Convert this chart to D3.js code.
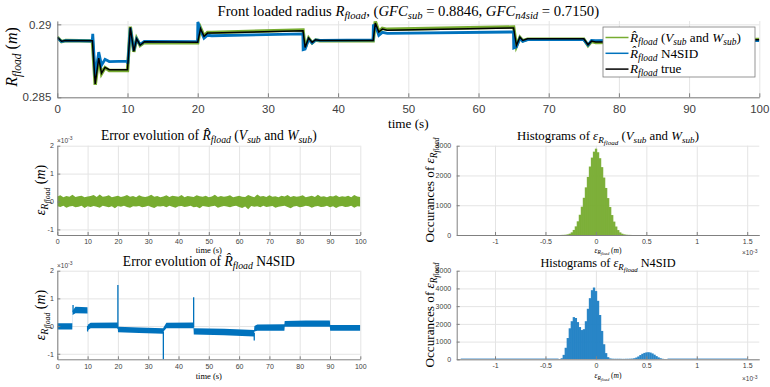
<!DOCTYPE html>
<html><head><meta charset="utf-8">
<script src="https://cdn.jsdelivr.net/npm/d3@7"></script>
<style>body{margin:0;background:#fff} svg{display:block} text{white-space:pre}</style>
</head><body>
<svg id="c" width="770" height="387"></svg>
<script>
// ---------------- DATA ----------------
// Top chart: time keypoints (s) and radius values (m)
const tTrue = [0, 0.6, 1.2, 5.0, 5.4, 5.9, 6.3, 6.8, 7.4, 10.0, 10.4, 10.9, 11.3, 11.8, 12.4, 20.0, 20.4, 20.9, 21.4, 22.0, 35.0, 35.3, 35.8, 36.3, 36.8, 37.4, 45.0, 45.3, 45.8, 46.3, 47.0, 65.0, 65.4, 65.9, 66.3, 67.0, 75.0, 75.6, 76.1, 76.7, 90.0, 90.5, 91.2, 100];
const rTrue = [0.28911, 0.28884, 0.28890, 0.28888, 0.28591, 0.28769, 0.28666, 0.28705, 0.28689, 0.28689, 0.28979, 0.28815, 0.28901, 0.28857, 0.28880, 0.28877, 0.28970, 0.28918, 0.28940, 0.28940, 0.28956, 0.28842, 0.28906, 0.28876, 0.28895, 0.28890, 0.28890, 0.29009, 0.28947, 0.28968, 0.28960, 0.28975, 0.28856, 0.28912, 0.28890, 0.28901, 0.28901, 0.28860, 0.28885, 0.28879, 0.28885, 0.28900, 0.28893, 0.28895];
const rSub  = [0.28913, 0.28882, 0.28889, 0.28886, 0.28585, 0.28772, 0.28662, 0.28703, 0.28684, 0.28684, 0.28984, 0.28812, 0.28903, 0.28855, 0.28876, 0.28874, 0.28975, 0.28921, 0.28944, 0.28945, 0.28962, 0.28838, 0.28905, 0.28873, 0.28893, 0.28888, 0.28888, 0.29020, 0.28950, 0.28972, 0.28966, 0.28982, 0.28851, 0.28910, 0.28888, 0.28899, 0.28899, 0.28855, 0.28883, 0.28876, 0.28884, 0.28902, 0.28892, 0.28896];
const tN4 = [0, 0.6, 1.2, 4.98, 5.05, 5.4, 5.9, 6.3, 6.8, 7.4, 9.98, 10.05, 10.4, 10.9, 11.3, 11.8, 12.4, 19.98, 20.02, 20.4, 20.9, 21.4, 22.0, 34.98, 35.02, 35.3, 35.8, 36.3, 36.8, 37.4, 44.98, 45.02, 45.3, 45.8, 46.3, 47.0, 64.98, 65.02, 65.4, 65.9, 66.3, 67.0, 74.98, 75.6, 76.1, 76.7, 89.98, 90.5, 91.2, 100];
const rN4 = [0.28908, 0.28882, 0.28888, 0.28886, 0.28935, 0.28640, 0.28810, 0.28720, 0.28760, 0.28745, 0.28748, 0.28730, 0.28975, 0.28820, 0.28900, 0.28862, 0.28884, 0.28882, 0.29016, 0.28960, 0.28905, 0.28925, 0.28922, 0.28935, 0.28826, 0.28830, 0.28898, 0.28872, 0.28893, 0.28890, 0.28893, 0.28992, 0.28995, 0.28925, 0.28945, 0.28938, 0.28948, 0.28838, 0.28845, 0.28905, 0.28884, 0.28895, 0.28895, 0.28858, 0.28890, 0.28889, 0.28895, 0.28890, 0.28888, 0.28889];
const topXTicks = [0, 10, 20, 30, 40, 50, 60, 70, 80, 90, 100];
const topYTicks = [0.285, 0.29];

// Error of sub estimate (x1e-3 m): envelope of the noise, one value per second
const errSubT = d3.range(0, 101, 1);
const errSubHi = [0.18,0.22,0.15,0.20,0.17,0.24,0.16,0.19,0.21,0.15,
  0.18,0.20,0.23,0.16,0.25,0.17,0.19,0.22,0.15,0.18,
  0.21,0.16,0.19,0.23,0.17,0.20,0.15,0.22,0.18,0.16,
  0.19,0.24,0.17,0.20,0.15,0.18,0.22,0.16,0.21,0.19,
  0.17,0.23,0.15,0.20,0.18,0.16,0.22,0.19,0.17,0.21,
  0.15,0.18,0.24,0.16,0.20,0.17,0.19,0.22,0.15,0.18,
  0.21,0.17,0.16,0.23,0.19,0.15,0.25,0.18,0.20,0.16,
  0.22,0.17,0.19,0.15,0.21,0.18,0.23,0.16,0.20,0.17,
  0.19,0.22,0.15,0.18,0.21,0.16,0.24,0.17,0.19,0.15,
  0.20,0.18,0.22,0.16,0.19,0.17,0.21,0.15,0.23,0.18,0.16];
const errSubLo = [-0.17,-0.20,-0.15,-0.22,-0.18,-0.16,-0.21,-0.19,-0.15,-0.23,
  -0.17,-0.20,-0.16,-0.19,-0.22,-0.15,-0.18,-0.21,-0.17,-0.24,
  -0.16,-0.19,-0.15,-0.20,-0.22,-0.17,-0.18,-0.16,-0.21,-0.19,
  -0.15,-0.20,-0.23,-0.17,-0.18,-0.16,-0.21,-0.15,-0.19,-0.22,
  -0.17,-0.16,-0.20,-0.18,-0.15,-0.21,-0.19,-0.24,-0.16,-0.18,
  -0.20,-0.17,-0.15,-0.22,-0.19,-0.16,-0.18,-0.21,-0.17,-0.15,
  -0.20,-0.23,-0.18,-0.28,-0.16,-0.19,-0.17,-0.21,-0.15,-0.20,
  -0.18,-0.16,-0.22,-0.19,-0.17,-0.15,-0.20,-0.24,-0.18,-0.16,
  -0.21,-0.19,-0.15,-0.17,-0.22,-0.18,-0.16,-0.20,-0.19,-0.15,
  -0.21,-0.17,-0.23,-0.18,-0.16,-0.20,-0.19,-0.15,-0.22,-0.17,-0.18];

// Error of N4SID estimate (x1e-3 m): band keypoints + spikes
const errN4T  = [0, 4.95, 5.05, 6, 9.95, 10.05, 11, 19.95, 20.05, 27, 34.95, 35.05, 36, 44.95, 45.05, 55, 64.95, 65.05, 66, 74.95, 75.05, 82, 89.95, 90.05, 100];
const errN4Hi = [0.10, 0.10, 0.55, 0.70, 0.68, 0.05, 0.12, 0.13, -0.02, -0.05, -0.08, -0.05, 0.12, 0.13, -0.08, -0.10, -0.14, 0.00, 0.06, 0.07, 0.18, 0.20, 0.20, 0.04, 0.04];
const errN4Lo = [-0.12, -0.12, 0.40, 0.46, 0.45, -0.15, -0.08, -0.08, -0.22, -0.25, -0.28, -0.20, -0.08, -0.08, -0.30, -0.33, -0.38, -0.20, -0.17, -0.17, -0.02, -0.02, -0.02, -0.17, -0.17];
const spikeT    = [5.2, 10.0, 20.0, 35.0, 45.0, 65.0];
const spikeBase = [0.50, 0.0, -0.10, -0.20, -0.05, -0.25];
const spikeV    = [0.76, -0.20, 1.48, -1.30, 1.04, -0.52];
const errXTicks = [0, 10, 20, 30, 40, 50, 60, 70, 80, 90, 100];
const errYTicks = [-1, 0, 1, 2];

// Histograms (bin centres x1e-3 m, bin width 0.02e-3)
const histSubX = [-0.34,-0.32,-0.30,-0.28,-0.26,-0.24,-0.22,-0.20,-0.18,-0.16,-0.14,-0.12,-0.10,-0.08,-0.06,-0.04,-0.02,0,0.02,0.04,0.06,0.08,0.10,0.12,0.14,0.16,0.18,0.20,0.22,0.24,0.26,0.28,0.30,0.32,0.34];
const histSubN = [3,5,10,22,45,90,170,290,460,680,950,1250,1600,1950,2300,2600,2800,2900,2780,2580,2280,1930,1580,1240,940,670,450,285,165,88,44,21,10,5,3];
const histN4X = [-0.36,-0.34,-0.32,-0.30,-0.28,-0.26,-0.24,-0.22,-0.20,-0.18,-0.16,-0.14,-0.12,-0.10,-0.08,-0.06,-0.04,-0.02,0,0.02,0.04,0.06,0.08,0.10,0.12,0.14,0.16,0.18,0.20,0.22,0.24,0.26,0.28,0.30,0.32,0.34,0.36,0.38,0.40,0.42,0.44,0.46,0.48,0.50,0.52,0.54,0.56,0.58,0.60,0.62,0.64,0.66,0.68,0.70];
const histN4N = [10,60,250,650,1200,1750,2150,2380,2330,2100,1820,1650,1700,2150,2850,3450,3900,4050,3850,3300,2500,1600,850,350,120,50,35,30,30,30,30,25,25,30,30,35,40,60,100,160,240,310,360,390,400,380,330,260,180,110,60,30,15,5];
const histN4TailFrom = [-1.34, 0.71];
const histN4TailTo   = [-0.37, 1.50];
const histN4TailN    = [6, 6];
const histXTicks = [-1, -0.5, 0, 0.5, 1, 1.5];
const histSubYTicks = [0, 1000, 2000, 3000];
const histN4YTicks = [0, 1000, 2000, 3000, 4000, 5000];

// ---------------- DRAWING ----------------
const svg = d3.select('#c');
const SERIF = "'Liberation Serif','DejaVu Serif',serif";
const SANS = "'Liberation Sans',Arial,sans-serif";
const GRID = '#e4e4e4', AXIS = '#808080', TXT = '#404040';
const GREEN = '#77AC30', BLUE = '#0072BD';

function math(x, y, segs, size, opts = {}) {
  const t = svg.append('text').attr('x', x).attr('y', y)
    .attr('font-family', SERIF).attr('font-size', size)
    .attr('text-anchor', opts.anchor || 'middle').attr('fill', opts.fill || '#000');
  if (opts.rotate) t.attr('transform', `rotate(-90,${x},${y})`);
  const off = [0, 0.24, 0.38], fs = [1, 0.72, 0.55];
  let cur = 0;
  segs.forEach(s => {
    const lv = s.l || 0;
    const sp = t.append('tspan').text(s.t).attr('font-size', size * fs[lv])
      .attr('dy', (off[lv] - off[cur]) * size);
    if (s.i) sp.attr('font-style', 'italic');
    cur = lv;
  });
  return t;
}
const Rf   = [{t: 'R', i: 1}, {t: 'fload', i: 1, l: 1}];
const Rhat = [{t: 'R\u0302', i: 1}, {t: 'fload', i: 1, l: 1}];
const Eps  = [{t: '\u03b5', i: 1}, {t: 'R', i: 1, l: 1}, {t: 'fload', i: 1, l: 2}];
const VW   = [{t: ' ('}, {t: 'V', i: 1}, {t: 'sub', i: 1, l: 1}, {t: ' and '}, {t: 'W', i: 1}, {t: 'sub', i: 1, l: 1}, {t: ')'}];
const M    = [{t: ' ('}, {t: 'm', i: 1}, {t: ')'}];

let clipId = 0;
function panel(x0, x1, y0, y1, xd, yd, xt, yt, o) {
  const xs = d3.scaleLinear().domain(xd).range([x0, x1]);
  const ys = d3.scaleLinear().domain(yd).range([y1, y0]);
  svg.append('g').attr('transform', `translate(0,${y1})`)
    .call(d3.axisBottom(xs).tickValues(xt).tickSize(-(y1 - y0)).tickFormat(''))
    .call(g => { g.select('.domain').remove(); g.selectAll('line').attr('stroke', GRID); });
  svg.append('g').attr('transform', `translate(${x0},0)`)
    .call(d3.axisLeft(ys).tickValues(yt).tickSize(-(x1 - x0)).tickFormat(''))
    .call(g => { g.select('.domain').remove(); g.selectAll('line').attr('stroke', GRID); });
  const id = 'clip' + (clipId++);
  svg.append('clipPath').attr('id', id).append('rect')
    .attr('x', x0).attr('y', y0 - 1).attr('width', x1 - x0).attr('height', y1 - y0 + 1);
  const plot = svg.append('g').attr('clip-path', `url(#${id})`);
  const axes = () => {
    svg.append('g').attr('transform', `translate(0,${y1})`)
      .call(d3.axisBottom(xs).tickValues(xt).tickSizeInner(-o.tick).tickSizeOuter(0).tickPadding(o.xpad).tickFormat(o.xfmt))
      .call(g => {
        g.select('.domain').attr('stroke', AXIS);
        g.selectAll('line').attr('stroke', AXIS);
        g.selectAll('text').attr('font-family', SANS).attr('font-size', o.fs).attr('fill', TXT);
      });
    svg.append('g').attr('transform', `translate(${x0},0)`)
      .call(d3.axisLeft(ys).tickValues(yt).tickSizeInner(-o.tick).tickSizeOuter(0).tickPadding(o.ypad).tickFormat(o.yfmt))
      .call(g => {
        g.select('.domain').attr('stroke', AXIS);
        g.selectAll('line').attr('stroke', AXIS);
        g.selectAll('text').attr('font-family', SANS).attr('font-size', o.fs).attr('fill', TXT);
      });
  };
  return {xs, ys, plot, axes};
}

// ---- Top chart ----
const topP = panel(57.3, 759.3, 21, 97.3, [0, 100], [0.285, 0.29023], topXTicks, topYTicks,
  {tick: 4, xpad: 8, ypad: 6, fs: 11.5, xfmt: d => String(d), yfmt: d => String(d)});
const lineT = (ts, vs) => d3.line().x((d, i) => topP.xs(ts[i])).y(d => topP.ys(d))(vs);
topP.plot.append('path').attr('d', lineT(tTrue, rSub)).attr('fill', 'none').attr('stroke', GREEN).attr('stroke-width', 3.4);
topP.plot.append('path').attr('d', lineT(tN4, rN4)).attr('fill', 'none').attr('stroke', BLUE).attr('stroke-width', 2.8);
topP.plot.append('path').attr('d', lineT(tTrue, rTrue)).attr('fill', 'none').attr('stroke', '#000').attr('stroke-width', 1.5);
topP.axes();
math(408.3, 15.5, [{t: 'Front loaded radius '}, ...Rf, {t: ', ('}, {t: 'GFC', i: 1}, {t: 'sub', i: 1, l: 1}, {t: ' = 0.8846, '}, {t: 'GFC', i: 1}, {t: 'n4sid', i: 1, l: 1}, {t: ' = 0.7150)'}], 14.7);
math(408.3, 128, [{t: 'time (s)'}], 13.2);
math(17, 57, [...Rf, ...M], 16, {rotate: 1});

// legend
const lg = svg.append('g');
lg.append('rect').attr('x', 603).attr('y', 27).attr('width', 152).attr('height', 50)
  .attr('fill', '#fff').attr('stroke', '#7a7a7a').attr('stroke-width', 0.8);
const legRows = [
  {c: GREEN, segs: [...Rhat, ...VW]},
  {c: BLUE, segs: [...Rhat, {t: ' N4SID'}]},
  {c: '#000', segs: [...Rf, {t: ' true'}]}
];
legRows.forEach((r, i) => {
  const y = 37.5 + i * 15.8;
  lg.append('line').attr('x1', 605.5).attr('x2', 628.5).attr('y1', y).attr('y2', y).attr('stroke', r.c).attr('stroke-width', 1.5);
  math(630, y + 4.2, r.segs, 13.2, {anchor: 'start'});
});

// ---- Error panels ----
function errPanel(y0, y1) {
  return panel(57.3, 360.3, y0, y1, [0, 100], [-1.2, 2], errXTicks, errYTicks,
    {tick: 3, xpad: 4.3, ypad: 3.5, fs: 7, xfmt: d => String(d), yfmt: d => String(d)});
}
function x10(x, y) {
  const t = svg.append('text').attr('x', x).attr('y', y).attr('font-family', SANS).attr('font-size', 6.5).attr('fill', TXT);
  t.append('tspan').text('\u00d710');
  t.append('tspan').text('-3').attr('font-size', 5).attr('dy', -2.5);
}

const e1 = errPanel(145.7, 235);
e1.plot.append('path').attr('fill', GREEN)
  .attr('d', d3.area().x((d, i) => e1.xs(errSubT[i])).y0((d, i) => e1.ys(errSubLo[i])).y1(d => e1.ys(d))(errSubHi));
e1.axes();
x10(57, 142.5);
math(208.8, 140, [{t: 'Error evolution of '}, ...Rhat, ...VW], 13.6);
math(208.8, 253, [{t: 'time (s)'}], 8.5);
math(44.5, 190, [...Eps, ...M], 14, {rotate: 1});

const e2 = errPanel(270.7, 359.3);
e2.plot.append('path').attr('fill', BLUE)
  .attr('d', d3.area().x((d, i) => e2.xs(errN4T[i])).y0((d, i) => e2.ys(errN4Lo[i])).y1(d => e2.ys(d))(errN4Hi));
e2.plot.selectAll('line.spk').data(spikeV).join('line')
  .attr('x1', (d, i) => e2.xs(spikeT[i])).attr('x2', (d, i) => e2.xs(spikeT[i]))
  .attr('y1', (d, i) => e2.ys(spikeBase[i])).attr('y2', d => e2.ys(d))
  .attr('stroke', BLUE).attr('stroke-width', 1.3);
e2.axes();
x10(57, 267.5);
math(208.8, 265.5, [{t: 'Error evolution of '}, ...Rhat, {t: ' N4SID'}], 13.6);
math(208.8, 378.5, [{t: 'time (s)'}], 8.5);
math(44.5, 315, [...Eps, ...M], 14, {rotate: 1});

// ---- Histograms ----
function histPanel(y0, y1, ymax, yt) {
  return panel(456.7, 759.3, y0, y1, [-1.38, 1.62], [0, ymax], histXTicks, yt,
    {tick: 3, xpad: 4, ypad: 5.5, fs: 7, xfmt: d => String(d), yfmt: d => String(d)});
}
const BW = 0.02;
const h1 = histPanel(145.7, 235, 3000, histSubYTicks);
h1.plot.selectAll('rect').data(histSubN).join('rect')
  .attr('x', (d, i) => h1.xs(histSubX[i] - BW / 2)).attr('width', (d, i) => h1.xs(histSubX[i] + BW / 2) - h1.xs(histSubX[i] - BW / 2) + 0.3)
  .attr('y', d => h1.ys(d)).attr('height', d => h1.ys(0) - h1.ys(d))
  .attr('fill', GREEN).attr('fill-opacity', 0.95);
h1.axes();
x10(742, 255);
math(608, 140, [{t: 'Histograms of '}, ...Eps, ...VW], 12.8);
math(608, 252.5, [...Eps, ...M], 7.5);
math(433.5, 190, [{t: 'Occurances of '}, ...Eps], 13.2, {rotate: 1});

const h2 = histPanel(270.7, 359.3, 5000, histN4YTicks);
h2.plot.selectAll('rect.tail').data(histN4TailN).join('rect').attr('class', 'tail')
  .attr('x', (d, i) => h2.xs(histN4TailFrom[i])).attr('width', (d, i) => h2.xs(histN4TailTo[i]) - h2.xs(histN4TailFrom[i]))
  .attr('y', d => h2.ys(d) - 0.8).attr('height', d => h2.ys(0) - h2.ys(d) + 0.8)
  .attr('fill', '#6fa8d8');
h2.plot.selectAll('rect.bar').data(histN4N).join('rect').attr('class', 'bar')
  .attr('x', (d, i) => h2.xs(histN4X[i] - BW / 2)).attr('width', (d, i) => h2.xs(histN4X[i] + BW / 2) - h2.xs(histN4X[i] - BW / 2) + 0.3)
  .attr('y', d => h2.ys(d)).attr('height', d => h2.ys(0) - h2.ys(d))
  .attr('fill', '#1f7fc4').attr('fill-opacity', 0.95);
h2.axes();
x10(742, 381);
math(608, 267, [{t: 'Histograms of '}, ...Eps, {t: ' N4SID'}], 12.3);
math(608, 378, [...Eps, ...M], 7.5);
math(433.5, 315, [{t: 'Occurances of '}, ...Eps], 13.2, {rotate: 1});
</script>
</body></html>
